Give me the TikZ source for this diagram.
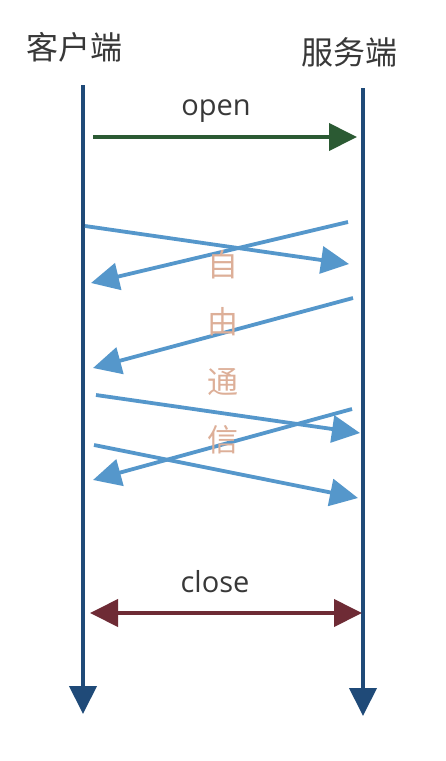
\documentclass[tikz,border=0pt]{standalone}
\usepackage{fontspec}
\setmainfont{Open Sans}
\newfontfamily\cjk{Noto Sans CJK SC}
\usetikzlibrary{arrows.meta}
\definecolor{lifec}{HTML}{1F4A78}
\definecolor{openc}{HTML}{2B5A33}
\definecolor{msgc}{HTML}{5597CB}
\definecolor{closec}{HTML}{6E2B35}
\definecolor{freec}{HTML}{DDAF98}
\definecolor{txtc}{HTML}{383838}
\tikzset{
  tip/.style={-{Triangle[length=28pt,width=27pt]}},
  lifeline/.style={draw=lifec,line width=4pt,tip},
  openarrow/.style={draw=openc,line width=4pt,tip},
  msgarrow/.style={draw=msgc,line width=3.8pt,tip},
  closearrow/.style={draw=closec,line width=4pt,{Triangle[length=28pt,width=27pt]}-{Triangle[length=28pt,width=27pt]}},
  role/.style={text=txtc,font=\cjk\fontsize{32}{36}\selectfont,inner sep=0pt},
  lbl/.style={text=txtc,font=\fontsize{29}{34}\selectfont,inner sep=0pt},
  free/.style={text=freec,font=\cjk\fontsize{31}{34}\selectfont,inner sep=0pt}
}
\begin{document}
\begin{tikzpicture}[x=1pt,y=-1pt]
\useasboundingbox[fill=white] (0,0) rectangle (446,761);
% roles
\node[role] (client) at (75,47) {客户端};
\node[role] (server) at (349,52) {服务端};
% lifelines
\coordinate (cTop) at (83,85);
\coordinate (cBot) at (83,714);
\coordinate (sTop) at (363,88);
\coordinate (sBot) at (363,716);
\draw[lifeline] (cTop) -- (cBot);
\draw[lifeline] (sTop) -- (sBot);
% open
\node[lbl] (openl) at (216,111) {open};
\coordinate (o1) at (93,137);
\coordinate (o2) at (357,137);
\draw[openarrow] (o1) -- (o2);
% free messages
\coordinate (a1) at (85,226);  \coordinate (b1) at (349,264);
\coordinate (a2) at (348,222); \coordinate (b2) at (91,283);
\coordinate (a3) at (353,298); \coordinate (b3) at (93,368);
\coordinate (a4) at (96,395);  \coordinate (b4) at (360,433);
\coordinate (a5) at (352,409); \coordinate (b5) at (93,480);
\coordinate (a6) at (94,445);  \coordinate (b6) at (358,498);
\draw[msgarrow] (a1) -- (b1);
\draw[msgarrow] (a2) -- (b2);
\draw[msgarrow] (a3) -- (b3);
\draw[msgarrow] (a4) -- (b4);
\draw[msgarrow] (a5) -- (b5);
\draw[msgarrow] (a6) -- (b6);
% free text
\node[free] (f1) at (223,265) {自};
\node[free] (f2) at (223,322) {由};
\node[free] (f3) at (223,382) {通};
\node[free] (f4) at (223,440) {信};
% close
\node[lbl] (closel) at (215,582) {close};
\coordinate (c1) at (90,613);
\coordinate (c2) at (362,613);
\draw[closearrow] (c1) -- (c2);
\end{tikzpicture}
\end{document}
